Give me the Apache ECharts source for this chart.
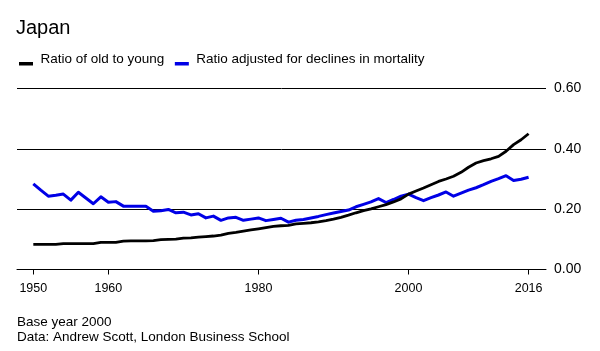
<!DOCTYPE html>
<html>
<head>
<meta charset="utf-8">
<script src="https://cdn.jsdelivr.net/npm/echarts@6/dist/echarts.min.js"></script>
<style>
html,body{margin:0;padding:0;background:#fff;}
#chart{width:600px;height:351px;}
</style>
</head>
<body>
<div id="chart"></div>
<script>
var years = [1950,1951,1952,1953,1954,1955,1956,1957,1958,1959,
             1960,1961,1962,1963,1964,1965,1966,1967,1968,1969,
             1970,1971,1972,1973,1974,1975,1976,1977,1978,1979,
             1980,1981,1982,1983,1984,1985,1986,1987,1988,1989,
             1990,1991,1992,1993,1994,1995,1996,1997,1998,1999,
             2000,2001,2002,2003,2004,2005,2006,2007,2008,2009,
             2010,2011,2012,2013,2014,2015,2016];

var oldToYoung = [0.083,0.083,0.083,0.083,0.086,0.086,0.086,0.086,0.086,0.090,
                  0.090,0.090,0.094,0.095,0.095,0.095,0.096,0.099,0.100,0.101,
                  0.104,0.105,0.107,0.109,0.111,0.114,0.120,0.123,0.127,0.131,
                  0.135,0.139,0.143,0.145,0.146,0.151,0.153,0.155,0.158,0.162,
                  0.167,0.173,0.180,0.188,0.195,0.201,0.208,0.215,0.224,0.234,
                  0.250,0.260,0.270,0.281,0.292,0.300,0.309,0.322,0.339,0.353,
                  0.361,0.367,0.375,0.392,0.414,0.430,0.450];

var adjusted = [0.284,0.263,0.243,0.246,0.250,0.230,0.256,0.237,0.218,0.241,
                0.223,0.225,0.210,0.210,0.210,0.210,0.193,0.195,0.199,0.188,
                0.190,0.181,0.185,0.171,0.177,0.163,0.171,0.173,0.163,0.167,
                0.171,0.162,0.166,0.170,0.157,0.163,0.166,0.171,0.176,0.182,
                0.187,0.192,0.197,0.208,0.216,0.224,0.235,0.222,0.232,0.243,
                0.250,0.238,0.228,0.238,0.247,0.257,0.243,0.253,0.263,0.271,
                0.281,0.292,0.301,0.311,0.295,0.299,0.306];

var xTickYears = [1950,1960,1980,2000,2016];

var seriesNames = ['Ratio of old to young', 'Ratio adjusted for declines in mortality'];
var titleText = 'Japan';
var footLine1 = 'Base year 2000';
var footLine2 = 'Data: Andrew Scott, London Business School';

function pairs(xs, ys){ return xs.map(function(x,i){ return [x, ys[i]]; }); }

var FONT = '"Liberation Sans", Arial, Helvetica, sans-serif';
var legendIcon = 'path://M0,0L0.01,0L0.01,0.01L0,0.01Z M0,9.5L14,9.5L14,13L0,13Z';

var chart = echarts.init(document.getElementById('chart'), null, {renderer:'canvas'});
chart.setOption({
  animation: false,
  backgroundColor: '#fff',
  textStyle: {fontFamily: FONT},
  title: [
    {text: titleText, left: 16, top: 18, padding: 0,
     textStyle: {fontFamily: FONT, fontSize: 20, fontWeight: 'normal', color: '#000'}},
    {text: footLine1, left: 17, top: 315, padding: 0,
     textStyle: {fontFamily: FONT, fontSize: 13.5, fontWeight: 'normal', color: '#000'}},
    {text: footLine2, left: 17, top: 330, padding: 0,
     textStyle: {fontFamily: FONT, fontSize: 13.5, fontWeight: 'normal', color: '#000'}}
  ],
  legend: {
    left: 19, top: 52, padding: 0,
    itemWidth: 14, itemHeight: 13, itemGap: 10.5,
    selectedMode: false,
    textStyle: {fontFamily: FONT, fontSize: 13.5, color: '#000', padding: [0,0,0,2.5]},
    data: [
      {name: seriesNames[0], icon: legendIcon, itemStyle: {color: '#000'}},
      {name: seriesNames[1], icon: legendIcon, itemStyle: {color: '#0000e6'}}
    ]
  },
  grid: {left: 17, right: 54, top: 88.5, bottom: 81.5, containLabel: false},
  xAxis: {
    type: 'value',
    min: 1950 - 16.3/7.5,
    max: 2016 + 17.4/7.5,
    axisLine: {show: true, lineStyle: {color: '#000', width: 1}},
    axisTick: {show: true, customValues: xTickYears, length: 5, lineStyle: {color: '#000', width: 1}},
    axisLabel: {show: true, customValues: xTickYears, margin: 13,
                fontFamily: FONT, fontSize: 12.5, color: '#000',
                formatter: function(v){ return String(Math.round(v)); }},
    splitLine: {show: false}
  },
  yAxis: {
    type: 'value',
    position: 'right',
    min: 0, max: 0.6, interval: 0.2,
    axisLine: {show: false},
    axisTick: {show: false},
    axisLabel: {margin: 8, fontFamily: FONT, fontSize: 14, color: '#000',
                formatter: function(v){ return v.toFixed(2); }},
    splitLine: {show: true, lineStyle: {color: '#000', width: 1}}
  },
  series: [
    {name: seriesNames[1], type: 'line', data: pairs(years, adjusted),
     showSymbol: false, symbol: 'none', z: 3,
     lineStyle: {color: '#0000e6', width: 3, join: 'round'},
     itemStyle: {color: '#0000e6'}},
    {name: seriesNames[0], type: 'line', data: pairs(years, oldToYoung),
     showSymbol: false, symbol: 'none', z: 4,
     lineStyle: {color: '#000', width: 2.8, join: 'round'},
     itemStyle: {color: '#000'}}
  ]
});
</script>
</body>
</html>
